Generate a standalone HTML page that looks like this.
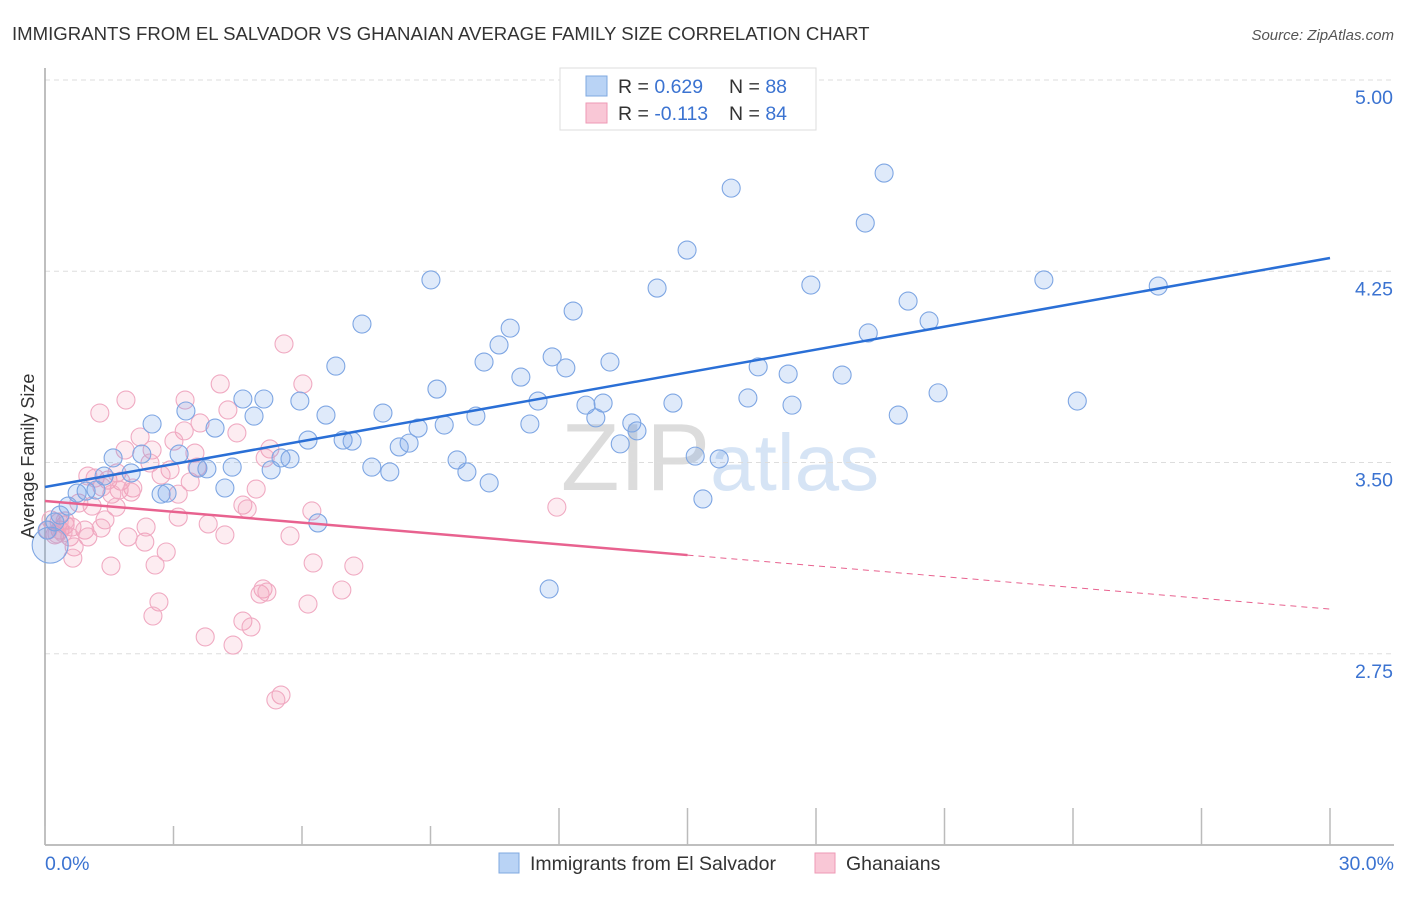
<!DOCTYPE html>
<html><head><meta charset="utf-8"><style>
body{margin:0;background:#fff;font-family:"Liberation Sans",sans-serif;}
svg text{font-family:"Liberation Sans",sans-serif;}
</style></head><body>
<svg id="chart" width="1406" height="892" viewBox="0 0 1406 892" xmlns="http://www.w3.org/2000/svg">
<text x="12" y="40" font-size="18.6" fill="#333">IMMIGRANTS FROM EL SALVADOR VS GHANAIAN AVERAGE FAMILY SIZE CORRELATION CHART</text>
<text x="1394" y="40" font-size="15" fill="#555" font-style="italic" text-anchor="end">Source: ZipAtlas.com</text>
<text x="720" y="490" font-size="96" fill="#e4e4e4" text-anchor="middle" font-family="Liberation Serif"><tspan fill="#dcdcdc">ZIP</tspan><tspan fill="#d6e4f5" font-family="Liberation Sans" font-size="80">atlas</tspan></text>
<g id="grid"></g>
<g id="axes"></g>
<g id="pink"></g>
<g id="blue"></g>
<g id="lines"></g>
<text transform="translate(34,456) rotate(-90)" font-size="18" fill="#333" text-anchor="middle">Average Family Size</text>
<g>
<rect x="560" y="68" width="256" height="62" fill="#fff" stroke="#ddd"/>
<rect x="586" y="76" width="21" height="20" fill="#b9d3f5" stroke="#7fa8e0"/>
<rect x="586" y="103" width="21" height="20" fill="#f9c7d6" stroke="#ee9ab5"/>
<text x="618" y="93" font-size="19.5" fill="#333">R = <tspan fill="#3b73d1">0.629</tspan></text>
<text x="729" y="93" font-size="19.5" fill="#333">N = <tspan fill="#3b73d1">88</tspan></text>
<text x="618" y="120" font-size="19.5" fill="#333">R = <tspan fill="#3b73d1">-0.113</tspan></text>
<text x="729" y="120" font-size="19.5" fill="#333">N = <tspan fill="#3b73d1">84</tspan></text>
</g>
<g>
<rect x="499" y="853" width="20" height="20" fill="#b9d3f5" stroke="#7fa8e0"/>
<text x="530" y="870" font-size="19.5" fill="#333">Immigrants from El Salvador</text>
<rect x="815" y="853" width="20" height="20" fill="#f9c7d6" stroke="#ee9ab5"/>
<text x="846" y="870" font-size="19.5" fill="#333">Ghanaians</text>
</g>
</svg>
<script>
const yTicks=[2.75,3.5,4.25,5.0];
const yTickLabels=["2.75","3.50","4.25","5.00"];
const xTicks=[0,3,6,9,12,15,18,21,24,27,30];
const blueX=[19.59,16.02,19.15,14.99,9.01,14.29,17.88,23.32,25.99,20.15,12.33,7.40,10.86,20.64,19.22,10.60,6.79,10.25,11.84,12.16,13.19,11.11,16.65,17.35,18.61,9.15,20.85,16.41,24.10,3.29,4.62,5.11,5.95,11.51,12.63,13.03,14.66,17.44,19.92,4.88,6.56,7.89,10.06,2.50,3.97,8.71,9.32,11.32,12.86,13.70,13.82,6.14,6.96,7.17,8.50,8.27,13.43,2.26,1.59,3.13,5.51,5.72,15.18,15.74,4.37,7.63,8.05,9.62,9.85,3.57,3.78,2.01,5.28,1.38,10.37,4.20,0.96,1.19,2.85,2.71,15.36,0.75,0.54,6.37,0.35,0.23,0.12,11.77,0.05];
const blueY=[4.635,4.576,4.439,4.333,4.216,4.184,4.196,4.216,4.192,4.133,4.094,4.043,4.027,4.055,4.008,3.961,3.878,3.894,3.914,3.871,3.894,3.835,3.875,3.847,3.843,3.788,3.773,3.753,3.741,3.702,3.749,3.749,3.741,3.741,3.725,3.733,3.733,3.725,3.686,3.682,3.686,3.694,3.682,3.651,3.635,3.635,3.647,3.651,3.675,3.655,3.624,3.588,3.588,3.584,3.576,3.561,3.573,3.533,3.518,3.533,3.518,3.514,3.525,3.514,3.482,3.482,3.463,3.510,3.463,3.478,3.475,3.459,3.471,3.447,3.420,3.400,3.388,3.392,3.380,3.376,3.357,3.380,3.329,3.263,3.294,3.267,3.176,3.004,3.235];
const blueSize=blueX.map((v,i)=>i===86?1:0);
const pinkX=[5.58,4.09,6.02,1.89,3.27,1.28,4.27,3.62,3.25,2.22,4.48,3.01,1.87,2.50,3.50,5.25,5.14,2.45,3.55,2.92,1.00,1.47,1.77,2.71,2.05,1.73,2.01,3.39,3.11,4.93,1.56,0.79,1.10,1.66,4.62,4.72,6.23,11.95,1.40,3.11,0.47,0.35,0.63,3.81,0.93,0.23,0.58,1.00,1.31,1.94,2.33,4.20,5.72,0.68,0.65,1.54,2.57,6.26,7.21,2.83,5.09,5.02,5.18,6.93,2.66,6.14,2.52,4.62,4.81,3.74,4.39,5.51,5.39,0.14,0.33,0.47,1.17,1.68,0.07,1.33,2.36,0.28,0.42];
const pinkY=[3.965,3.808,3.808,3.745,3.745,3.694,3.706,3.655,3.624,3.600,3.616,3.584,3.549,3.549,3.537,3.553,3.518,3.498,3.482,3.471,3.447,3.431,3.427,3.451,3.400,3.392,3.384,3.424,3.376,3.396,3.376,3.341,3.329,3.325,3.333,3.318,3.310,3.325,3.275,3.286,3.255,3.235,3.247,3.259,3.235,3.216,3.208,3.208,3.243,3.208,3.188,3.216,3.212,3.169,3.125,3.094,3.098,3.106,3.094,3.149,3.004,2.984,2.992,3.000,2.953,2.945,2.898,2.878,2.855,2.816,2.784,2.588,2.569,3.275,3.267,3.271,3.439,3.459,3.235,3.404,3.247,3.220,3.224];
const blueTrend=[3.404,4.302];
const pinkTrend=[3.349,2.925];
const pinkSolidEnd=15.0;

const NS="http://www.w3.org/2000/svg";
const X0=45,X1=1330,Y5=80,PPU=255;
function xs(v){return X0+v/30*(X1-X0);}
function ys(v){return Y5+(5-v)*PPU;}
function mk(tag,attrs,parent){const e=document.createElementNS(NS,tag);for(const k in attrs)e.setAttribute(k,attrs[k]);parent.appendChild(e);return e;}
const grid=document.getElementById('grid');
yTicks.forEach((t,i)=>{
  const l=mk('line',{x1:X0,x2:1394,y1:ys(t),y2:ys(t),stroke:'#ddd','stroke-dasharray':'5,4'},grid);
  
  
  const tx=mk('text',{x:1393,y:ys(t)+24,'font-size':19.5,fill:'#3b73d1','text-anchor':'end'},grid);
  tx.textContent=yTickLabels[i];
  
  
});
const axes=document.getElementById('axes');
const ya=mk('line',{x1:X0,x2:X0,y1:68,y2:845,stroke:'#aaa','stroke-width':1.5},axes);


const xa=mk('line',{x1:X0,x2:1394,y1:845,y2:845,stroke:'#aaa','stroke-width':1.5},axes);


xTicks.forEach(t=>{
  const tk=mk('line',{x1:xs(t),x2:xs(t),y1:t>=12?808:826,y2:845,stroke:'#bbb','stroke-width':1.5},axes);
  
  
});
const l0=mk('text',{x:45,y:870,'font-size':19.5,fill:'#3b73d1'},axes);l0.textContent='0.0%';


const l1=mk('text',{x:1394,y:870,'font-size':19.5,fill:'#3b73d1','text-anchor':'end'},axes);l1.textContent='30.0%';



const pg=document.getElementById('pink');
pinkX.forEach((x,i)=>{
  const c=mk('circle',{cx:xs(x),cy:ys(pinkY[i]),r:9,fill:'rgba(243,150,180,0.18)',stroke:'#f0aac2','stroke-width':1.1},pg);
  
  
});
const bg=document.getElementById('blue');
blueX.forEach((x,i)=>{
  const c=mk('circle',{cx:xs(x),cy:ys(blueY[i]),r:blueSize[i]?18:9,fill:'rgba(110,160,230,0.22)',stroke:'#7ea6e3','stroke-width':1.1},bg);
  
  
});
const lg=document.getElementById('lines');
const bl=mk('line',{x1:xs(0),y1:ys(blueTrend[0]),x2:xs(30),y2:ys(blueTrend[1]),stroke:'#2a6fd6','stroke-width':2.5},lg);


const pm=pinkTrend[0]+(pinkTrend[1]-pinkTrend[0])*pinkSolidEnd/30;
const pl=mk('line',{x1:xs(0),y1:ys(pinkTrend[0]),x2:xs(pinkSolidEnd),y2:ys(pm),stroke:'#e8628f','stroke-width':2.5},lg);


const pd=mk('line',{x1:xs(pinkSolidEnd),y1:ys(pm),x2:xs(30),y2:ys(pinkTrend[1]),stroke:'#e8628f','stroke-width':1,'stroke-dasharray':'6,5'},lg);


</script>
</body></html>
